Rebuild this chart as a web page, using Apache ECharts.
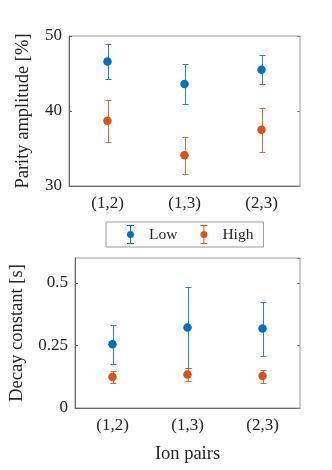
<!DOCTYPE html>
<html>
<head>
<meta charset="utf-8">
<script src="https://cdn.jsdelivr.net/npm/echarts@6/dist/echarts.min.js"></script>
<style>
  html, body { margin: 0; padding: 0; background: #fff; }
  #chart { width: 332px; height: 470px; }
</style>
</head>
<body>
<div id="chart"></div>
<script>
// data
const categories = ['(1,2)', '(1,3)', '(2,3)']
const ampLow = [46.6, 43.6, 45.5]
const ampLowErr = [2.3, 2.7, 1.95]
const ampHigh = [38.7, 34.1, 37.5]
const ampHighErr = [2.8, 2.5, 2.9]
const decayLow = [0.255, 0.322, 0.318]
const decayLowErr = [0.079, 0.163, 0.108]
const decayHigh = [0.124, 0.134, 0.128]
const decayHighErr = [0.025, 0.026, 0.026]
const ampTicks = [30, 40, 50]
const decayTicks = [0, 0.25, 0.5]

const BLUE = '#0072BD'
const ORANGE = '#D95319'
const FONT = 'Liberation Serif'
const TXT = '#262626'

const chart = echarts.init( document.getElementById( 'chart' ) )

const errData = ( vals, errs ) => vals.map( ( v, i ) => [i, v - errs[i], v + errs[i]] )
const dotData = vals => vals.map( ( v, i ) => [i, v] )

const errRender = ( params, api ) => {
  const x = api.value( 0 )
  const p1 = api.coord( [x, api.value( 2 )] )
  const p2 = api.coord( [x, api.value( 1 )] )
  const cx = Math.round( p1[0] ) + 0.5
  const t = Math.round( p1[1] ) + 0.5
  const b = Math.round( p2[1] ) + 0.5
  const style = { stroke : api.visual( 'color' ), lineWidth : 1, opacity : 0.85 }
  return {
    type : 'group',
    children : [
      { type : 'line', shape : { x1 : cx, y1 : t, x2 : cx, y2 : b }, style },
      { type : 'line', shape : { x1 : cx - 3, y1 : t, x2 : cx + 3, y2 : t }, style },
      { type : 'line', shape : { x1 : cx - 3, y1 : b, x2 : cx + 3, y2 : b }, style }
    ]
  }
}

const errSeries = ( name, color, idx, vals, errs ) => ( {
  name,
  type : 'custom',
  xAxisIndex : idx * 2,
  yAxisIndex : idx * 2,
  itemStyle : { color },
  renderItem : errRender,
  encode : { x : 0, y : [1, 2] },
  data : errData( vals, errs ),
  z : 2
} )

const dotSeries = ( name, color, idx, vals ) => ( {
  name,
  type : 'scatter',
  xAxisIndex : idx * 2,
  yAxisIndex : idx * 2,
  symbol : 'circle',
  symbolSize : 8.5,
  itemStyle : { color, opacity : 1 },
  data : dotData( vals ),
  z : 3
} )

const xAxes = idx => [
  {
    type : 'category',
    gridIndex : idx,
    data : categories,
    boundaryGap : true,
    position : 'bottom',
    axisLine : { lineStyle : { color : '#666', width : 1 } },
    axisTick : { inside : true, length : 3, alignWithLabel : true, lineStyle : { color : '#666' } },
    axisLabel : { fontFamily : FONT, fontSize : 17, color : TXT, margin : 9 },
    name : idx === 1 ? 'Ion pairs' : '',
    nameLocation : 'middle',
    nameGap : 37,
    nameTextStyle : { fontFamily : FONT, fontSize : 18.5, color : TXT }
  },
  {
    type : 'category',
    gridIndex : idx,
    data : categories,
    boundaryGap : true,
    position : 'top',
    axisLine : { show : false },
    axisTick : { inside : true, length : 3, alignWithLabel : true, lineStyle : { color : '#888' } },
    axisLabel : { show : false }
  }
]

const yAxes = ( idx, ticks, max, name, gap ) => [
  {
    type : 'value',
    gridIndex : idx,
    min : ticks[0],
    max,
    interval : ticks[1] - ticks[0],
    position : 'left',
    splitLine : { show : false },
    axisLine : { show : true, lineStyle : { color : '#666', width : 1 } },
    axisTick : { show : true, inside : true, length : 3, lineStyle : { color : '#666' } },
    axisLabel : { fontFamily : FONT, fontSize : 17, color : TXT, margin : 7, showMaxLabel : max === ticks[ticks.length - 1] },
    name,
    nameLocation : 'middle',
    nameGap : gap,
    nameTextStyle : { fontFamily : FONT, fontSize : 18.5, color : TXT }
  },
  {
    type : 'value',
    gridIndex : idx,
    min : ticks[0],
    max,
    interval : ticks[1] - ticks[0],
    position : 'right',
    splitLine : { show : false },
    axisLine : { show : false },
    axisTick : { show : true, inside : true, length : 3, lineStyle : { color : '#888' } },
    axisLabel : { show : false }
  }
]

// errorbar icon: capped stem plus dot
const errIcon = 'path://M0,0H7V1H4V18H7V19H0V18H3V1H0Z M3.5,6A3.5,3.5,0,1,1,3.5,13A3.5,3.5,0,1,1,3.5,6Z'

chart.setOption( {
  animation : false,
  backgroundColor : '#fff',
  grid : [
    { left : 69, top : 36, width : 231, height : 150, show : true, borderColor : '#999', borderWidth : 1 },
    { left : 69, top : 258, width : 231, height : 150, show : true, borderColor : '#999', borderWidth : 1 }
  ],
  legend : {
    left : 106,
    top : 222,
    orient : 'horizontal',
    padding : [3, 10, 3, 21],
    itemGap : 23,
    itemWidth : 7,
    itemHeight : 19,
    borderColor : '#999',
    borderWidth : 1,
    backgroundColor : '#fff',
    textStyle : { fontFamily : FONT, fontSize : 15.5, color : TXT, padding : [0, 0, 0, 10] },
    data : [
      { name : 'Low', icon : errIcon, itemStyle : { color : BLUE } },
      { name : 'High', icon : errIcon, itemStyle : { color : ORANGE } }
    ],
    selectedMode : false
  },
  xAxis : [...xAxes( 0 ), ...xAxes( 1 )],
  yAxis : [
    ...yAxes( 0, ampTicks, 50, 'Parity amplitude [%]', 36 ),
    ...yAxes( 1, decayTicks, 0.6, 'Decay constant [s]', 48 )
  ],
  series : [
    errSeries( 'Low', BLUE, 0, ampLow, ampLowErr ),
    dotSeries( 'Low', BLUE, 0, ampLow ),
    errSeries( 'High', ORANGE, 0, ampHigh, ampHighErr ),
    dotSeries( 'High', ORANGE, 0, ampHigh ),
    errSeries( 'Low', BLUE, 1, decayLow, decayLowErr ),
    dotSeries( 'Low', BLUE, 1, decayLow ),
    errSeries( 'High', ORANGE, 1, decayHigh, decayHighErr ),
    dotSeries( 'High', ORANGE, 1, decayHigh )
  ]
} )
</script>
</body>
</html>
